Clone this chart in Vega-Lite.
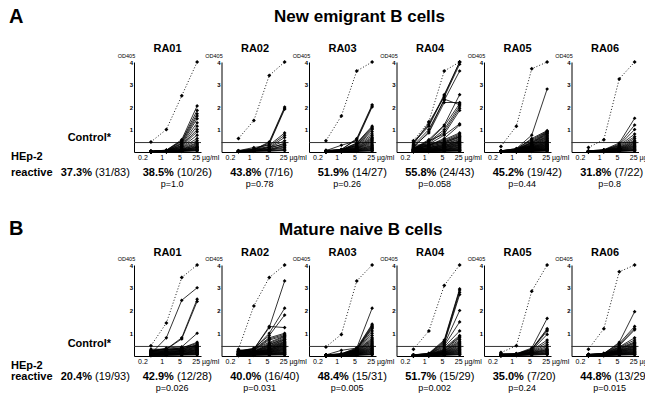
{
  "$schema": "https://vega.github.io/schema/vega-lite/v6.json",
  "padding": {"left": 8, "top": 7, "right": 0, "bottom": 0},
  "datasets": {
    "a": [
      {"r":"RA01","i":-1,"p":"38.5%","f":"(10/26)","q":"p=1.0","lp":"37.3%","lf":"(31/83)"},
      {"r":"RA02","i":-1,"p":"43.8%","f":"(7/16)","q":"p=0.78"},
      {"r":"RA03","i":-1,"p":"51.9%","f":"(14/27)","q":"p=0.26"},
      {"r":"RA04","i":-1,"p":"55.8%","f":"(24/43)","q":"p=0.058"},
      {"r":"RA05","i":-1,"p":"45.2%","f":"(19/42)","q":"p=0.44"},
      {"r":"RA06","i":-1,"p":"31.8%","f":"(7/22)","q":"p=0.8"},
      {"r":"RA01","i":0,"1":0.45,"2":1.0,"3":2.5,"4":4.0},
      {"r":"RA01","i":1,"1":0.03,"2":0.08,"3":0.55,"4":2.05},
      {"r":"RA01","i":2,"1":0.04,"2":0.08,"3":0.5,"4":1.85},
      {"r":"RA01","i":3,"1":0.03,"2":0.07,"3":0.48,"4":1.7},
      {"r":"RA01","i":4,"1":0.03,"2":0.06,"3":0.42,"4":1.6},
      {"r":"RA01","i":5,"1":0.02,"2":0.06,"3":0.38,"4":1.48},
      {"r":"RA01","i":6,"1":0.03,"2":0.06,"3":0.35,"4":1.3},
      {"r":"RA01","i":7,"1":0.02,"2":0.05,"3":0.3,"4":1.15},
      {"r":"RA01","i":8,"1":0.02,"2":0.05,"3":0.28,"4":1.0},
      {"r":"RA01","i":9,"1":0.03,"2":0.05,"3":0.25,"4":0.9},
      {"r":"RA01","i":10,"1":0.02,"2":0.04,"3":0.22,"4":0.75},
      {"r":"RA01","i":11,"1":0.02,"2":0.05,"3":0.2,"4":0.6},
      {"r":"RA01","i":12,"1":0.02,"2":0.04,"3":0.18,"4":0.5},
      {"r":"RA01","i":13,"1":0.01,"2":0.04,"3":0.15,"4":0.42},
      {"r":"RA01","i":14,"1":0.02,"2":0.03,"3":0.12,"4":0.38},
      {"r":"RA01","i":15,"1":0.02,"2":0.04,"3":0.1,"4":0.33},
      {"r":"RA01","i":16,"1":0.01,"2":0.03,"3":0.12,"4":0.28},
      {"r":"RA01","i":17,"1":0.02,"2":0.03,"3":0.08,"4":0.25},
      {"r":"RA01","i":18,"1":0.01,"2":0.03,"3":0.1,"4":0.2},
      {"r":"RA01","i":19,"1":0.01,"2":0.02,"3":0.06,"4":0.18},
      {"r":"RA01","i":20,"1":0.02,"2":0.03,"3":0.05,"4":0.15},
      {"r":"RA01","i":21,"1":0.01,"2":0.02,"3":0.08,"4":0.12},
      {"r":"RA01","i":22,"1":0.01,"2":0.02,"3":0.05,"4":0.1},
      {"r":"RA01","i":23,"1":0.01,"2":0.02,"3":0.04,"4":0.08},
      {"r":"RA01","i":24,"1":0.01,"2":0.02,"3":0.03,"4":0.06},
      {"r":"RA01","i":25,"1":0.01,"2":0.01,"3":0.03,"4":0.05},
      {"r":"RA01","i":26,"1":0.01,"2":0.02,"3":0.06,"4":0.22},
      {"r":"RA02","i":0,"1":0.6,"2":1.4,"3":3.4,"4":4.0},
      {"r":"RA02","i":1,"1":0.05,"2":0.1,"3":0.45,"4":2.0},
      {"r":"RA02","i":2,"1":0.05,"2":0.12,"3":0.4,"4":1.95},
      {"r":"RA02","i":3,"1":0.04,"2":0.1,"3":0.35,"4":1.9},
      {"r":"RA02","i":4,"1":0.06,"2":0.2,"3":0.3,"4":0.85},
      {"r":"RA02","i":5,"1":0.05,"2":0.1,"3":0.25,"4":0.75},
      {"r":"RA02","i":6,"1":0.04,"2":0.08,"3":0.2,"4":0.65},
      {"r":"RA02","i":7,"1":0.05,"2":0.15,"3":0.2,"4":0.5},
      {"r":"RA02","i":8,"1":0.04,"2":0.08,"3":0.15,"4":0.4},
      {"r":"RA02","i":9,"1":0.03,"2":0.06,"3":0.2,"4":0.35},
      {"r":"RA02","i":10,"1":0.04,"2":0.07,"3":0.12,"4":0.3},
      {"r":"RA02","i":11,"1":0.03,"2":0.06,"3":0.1,"4":0.28},
      {"r":"RA02","i":12,"1":0.03,"2":0.05,"3":0.1,"4":0.22},
      {"r":"RA02","i":13,"1":0.03,"2":0.05,"3":0.08,"4":0.18},
      {"r":"RA02","i":14,"1":0.02,"2":0.04,"3":0.06,"4":0.12},
      {"r":"RA02","i":15,"1":0.02,"2":0.04,"3":0.05,"4":0.08},
      {"r":"RA02","i":16,"1":0.02,"2":0.03,"3":0.04,"4":0.06},
      {"r":"RA03","i":0,"1":0.5,"2":1.6,"3":3.6,"4":4.0},
      {"r":"RA03","i":1,"1":0.08,"2":0.1,"3":0.6,"4":2.1},
      {"r":"RA03","i":2,"1":0.05,"2":0.12,"3":0.55,"4":2.05},
      {"r":"RA03","i":3,"1":0.06,"2":0.3,"3":0.5,"4":2.0},
      {"r":"RA03","i":4,"1":0.05,"2":0.1,"3":0.4,"4":1.15},
      {"r":"RA03","i":5,"1":0.04,"2":0.1,"3":0.38,"4":1.1},
      {"r":"RA03","i":6,"1":0.05,"2":0.08,"3":0.35,"4":1.05},
      {"r":"RA03","i":7,"1":0.04,"2":0.1,"3":0.3,"4":1.0},
      {"r":"RA03","i":8,"1":0.04,"2":0.08,"3":0.3,"4":0.9},
      {"r":"RA03","i":9,"1":0.03,"2":0.07,"3":0.28,"4":0.8},
      {"r":"RA03","i":10,"1":0.04,"2":0.07,"3":0.25,"4":0.72},
      {"r":"RA03","i":11,"1":0.03,"2":0.06,"3":0.22,"4":0.65},
      {"r":"RA03","i":12,"1":0.03,"2":0.06,"3":0.2,"4":0.6},
      {"r":"RA03","i":13,"1":0.04,"2":0.05,"3":0.18,"4":0.55},
      {"r":"RA03","i":14,"1":0.03,"2":0.05,"3":0.16,"4":0.5},
      {"r":"RA03","i":15,"1":0.02,"2":0.05,"3":0.15,"4":0.45},
      {"r":"RA03","i":16,"1":0.03,"2":0.04,"3":0.14,"4":0.4},
      {"r":"RA03","i":17,"1":0.02,"2":0.04,"3":0.12,"4":0.35},
      {"r":"RA03","i":18,"1":0.02,"2":0.04,"3":0.1,"4":0.3},
      {"r":"RA03","i":19,"1":0.02,"2":0.03,"3":0.1,"4":0.27},
      {"r":"RA03","i":20,"1":0.02,"2":0.03,"3":0.08,"4":0.23},
      {"r":"RA03","i":21,"1":0.02,"2":0.03,"3":0.08,"4":0.2},
      {"r":"RA03","i":22,"1":0.01,"2":0.03,"3":0.06,"4":0.17},
      {"r":"RA03","i":23,"1":0.01,"2":0.02,"3":0.05,"4":0.14},
      {"r":"RA03","i":24,"1":0.01,"2":0.02,"3":0.05,"4":0.11},
      {"r":"RA03","i":25,"1":0.01,"2":0.02,"3":0.04,"4":0.08},
      {"r":"RA03","i":26,"1":0.01,"2":0.02,"3":0.03,"4":0.06},
      {"r":"RA03","i":27,"1":0.01,"2":0.01,"3":0.03,"4":0.04},
      {"r":"RA04","i":0,"1":0.5,"2":1.35,"3":3.6,"4":4.0},
      {"r":"RA04","i":1,"1":0.45,"2":1.2,"3":2.55,"4":4.0},
      {"r":"RA04","i":2,"1":0.4,"2":1.15,"3":2.5,"4":4.0},
      {"r":"RA04","i":3,"1":0.35,"2":1.3,"3":2.45,"4":3.9},
      {"r":"RA04","i":4,"1":0.3,"2":1.0,"3":2.3,"4":3.6},
      {"r":"RA04","i":5,"1":0.2,"2":0.9,"3":2.35,"4":2.1},
      {"r":"RA04","i":6,"1":0.25,"2":0.85,"3":2.2,"4":2.2},
      {"r":"RA04","i":7,"1":0.15,"2":0.55,"3":1.2,"4":2.55},
      {"r":"RA04","i":8,"1":0.15,"2":0.5,"3":1.15,"4":2.15},
      {"r":"RA04","i":9,"1":0.1,"2":0.45,"3":1.0,"4":2.05},
      {"r":"RA04","i":10,"1":0.12,"2":0.4,"3":0.9,"4":1.95},
      {"r":"RA04","i":11,"1":0.1,"2":0.5,"3":0.8,"4":1.85},
      {"r":"RA04","i":12,"1":0.1,"2":0.35,"3":0.75,"4":1.25},
      {"r":"RA04","i":13,"1":0.08,"2":0.3,"3":0.6,"4":1.2},
      {"r":"RA04","i":14,"1":0.08,"2":0.3,"3":0.55,"4":0.85},
      {"r":"RA04","i":15,"1":0.3,"2":0.35,"3":0.5,"4":0.8},
      {"r":"RA04","i":16,"1":0.2,"2":0.3,"3":0.45,"4":0.75},
      {"r":"RA04","i":17,"1":0.25,"2":0.3,"3":0.45,"4":0.7},
      {"r":"RA04","i":18,"1":0.15,"2":0.25,"3":0.4,"4":0.68},
      {"r":"RA04","i":19,"1":0.2,"2":0.25,"3":0.4,"4":0.65},
      {"r":"RA04","i":20,"1":0.1,"2":0.2,"3":0.35,"4":0.6},
      {"r":"RA04","i":21,"1":0.15,"2":0.2,"3":0.35,"4":0.55},
      {"r":"RA04","i":22,"1":0.1,"2":0.2,"3":0.3,"4":0.5},
      {"r":"RA04","i":23,"1":0.12,"2":0.18,"3":0.3,"4":0.48},
      {"r":"RA04","i":24,"1":0.1,"2":0.15,"3":0.28,"4":0.45},
      {"r":"RA04","i":25,"1":0.08,"2":0.15,"3":0.25,"4":0.42},
      {"r":"RA04","i":26,"1":0.1,"2":0.15,"3":0.25,"4":0.4},
      {"r":"RA04","i":27,"1":0.08,"2":0.12,"3":0.22,"4":0.38},
      {"r":"RA04","i":28,"1":0.06,"2":0.12,"3":0.2,"4":0.35},
      {"r":"RA04","i":29,"1":0.08,"2":0.1,"3":0.2,"4":0.32},
      {"r":"RA04","i":30,"1":0.05,"2":0.1,"3":0.18,"4":0.3},
      {"r":"RA04","i":31,"1":0.06,"2":0.1,"3":0.15,"4":0.28},
      {"r":"RA04","i":32,"1":0.05,"2":0.08,"3":0.15,"4":0.25},
      {"r":"RA04","i":33,"1":0.04,"2":0.08,"3":0.12,"4":0.22},
      {"r":"RA04","i":34,"1":0.05,"2":0.07,"3":0.12,"4":0.2},
      {"r":"RA04","i":35,"1":0.04,"2":0.06,"3":0.1,"4":0.18},
      {"r":"RA04","i":36,"1":0.03,"2":0.06,"3":0.1,"4":0.15},
      {"r":"RA04","i":37,"1":0.04,"2":0.05,"3":0.08,"4":0.13},
      {"r":"RA04","i":38,"1":0.03,"2":0.05,"3":0.07,"4":0.11},
      {"r":"RA04","i":39,"1":0.03,"2":0.04,"3":0.06,"4":0.09},
      {"r":"RA04","i":40,"1":0.02,"2":0.04,"3":0.05,"4":0.08},
      {"r":"RA04","i":41,"1":0.02,"2":0.03,"3":0.05,"4":0.06},
      {"r":"RA04","i":42,"1":0.02,"2":0.03,"3":0.04,"4":0.05},
      {"r":"RA04","i":43,"1":0.02,"2":0.02,"3":0.03,"4":0.04},
      {"r":"RA05","i":0,"1":0.25,"2":1.15,"3":3.7,"4":4.0},
      {"r":"RA05","i":1,"1":0.05,"2":0.15,"3":0.75,"4":2.8},
      {"r":"RA05","i":2,"1":0.06,"2":0.12,"3":0.6,"4":0.95},
      {"r":"RA05","i":3,"1":0.05,"2":0.15,"3":0.55,"4":0.92},
      {"r":"RA05","i":4,"1":0.04,"2":0.12,"3":0.5,"4":0.9},
      {"r":"RA05","i":5,"1":0.05,"2":0.1,"3":0.45,"4":0.88},
      {"r":"RA05","i":6,"1":0.04,"2":0.1,"3":0.42,"4":0.85},
      {"r":"RA05","i":7,"1":0.05,"2":0.12,"3":0.4,"4":0.82},
      {"r":"RA05","i":8,"1":0.04,"2":0.1,"3":0.38,"4":0.8},
      {"r":"RA05","i":9,"1":0.04,"2":0.09,"3":0.35,"4":0.76},
      {"r":"RA05","i":10,"1":0.03,"2":0.1,"3":0.33,"4":0.72},
      {"r":"RA05","i":11,"1":0.04,"2":0.08,"3":0.3,"4":0.7},
      {"r":"RA05","i":12,"1":0.03,"2":0.09,"3":0.3,"4":0.66},
      {"r":"RA05","i":13,"1":0.04,"2":0.08,"3":0.28,"4":0.62},
      {"r":"RA05","i":14,"1":0.03,"2":0.08,"3":0.27,"4":0.6},
      {"r":"RA05","i":15,"1":0.03,"2":0.07,"3":0.25,"4":0.56},
      {"r":"RA05","i":16,"1":0.03,"2":0.07,"3":0.24,"4":0.52},
      {"r":"RA05","i":17,"1":0.03,"2":0.06,"3":0.22,"4":0.5},
      {"r":"RA05","i":18,"1":0.02,"2":0.06,"3":0.21,"4":0.47},
      {"r":"RA05","i":19,"1":0.03,"2":0.06,"3":0.2,"4":0.44},
      {"r":"RA05","i":20,"1":0.02,"2":0.05,"3":0.19,"4":0.42},
      {"r":"RA05","i":21,"1":0.02,"2":0.05,"3":0.18,"4":0.4},
      {"r":"RA05","i":22,"1":0.02,"2":0.05,"3":0.17,"4":0.37},
      {"r":"RA05","i":23,"1":0.02,"2":0.05,"3":0.16,"4":0.35},
      {"r":"RA05","i":24,"1":0.02,"2":0.04,"3":0.15,"4":0.33},
      {"r":"RA05","i":25,"1":0.02,"2":0.04,"3":0.14,"4":0.31},
      {"r":"RA05","i":26,"1":0.02,"2":0.04,"3":0.13,"4":0.29},
      {"r":"RA05","i":27,"1":0.02,"2":0.04,"3":0.12,"4":0.27},
      {"r":"RA05","i":28,"1":0.02,"2":0.04,"3":0.11,"4":0.25},
      {"r":"RA05","i":29,"1":0.01,"2":0.03,"3":0.1,"4":0.23},
      {"r":"RA05","i":30,"1":0.01,"2":0.03,"3":0.1,"4":0.21},
      {"r":"RA05","i":31,"1":0.01,"2":0.03,"3":0.09,"4":0.19},
      {"r":"RA05","i":32,"1":0.01,"2":0.03,"3":0.08,"4":0.17},
      {"r":"RA05","i":33,"1":0.01,"2":0.03,"3":0.08,"4":0.15},
      {"r":"RA05","i":34,"1":0.01,"2":0.03,"3":0.07,"4":0.14},
      {"r":"RA05","i":35,"1":0.01,"2":0.02,"3":0.06,"4":0.12},
      {"r":"RA05","i":36,"1":0.01,"2":0.02,"3":0.06,"4":0.11},
      {"r":"RA05","i":37,"1":0.01,"2":0.02,"3":0.05,"4":0.1},
      {"r":"RA05","i":38,"1":0.01,"2":0.02,"3":0.05,"4":0.08},
      {"r":"RA05","i":39,"1":0.01,"2":0.02,"3":0.04,"4":0.07},
      {"r":"RA05","i":40,"1":0.01,"2":0.02,"3":0.04,"4":0.06},
      {"r":"RA05","i":41,"1":0.01,"2":0.01,"3":0.03,"4":0.05},
      {"r":"RA05","i":42,"1":0.01,"2":0.01,"3":0.03,"4":0.04},
      {"r":"RA06","i":0,"1":0.2,"2":0.55,"3":3.25,"4":4.0},
      {"r":"RA06","i":1,"1":0.05,"2":0.1,"3":0.4,"4":1.5},
      {"r":"RA06","i":2,"1":0.04,"2":0.08,"3":0.35,"4":1.2},
      {"r":"RA06","i":3,"1":0.05,"2":0.1,"3":0.3,"4":1.0},
      {"r":"RA06","i":4,"1":0.04,"2":0.08,"3":0.28,"4":0.8},
      {"r":"RA06","i":5,"1":0.03,"2":0.08,"3":0.25,"4":0.68},
      {"r":"RA06","i":6,"1":0.04,"2":0.07,"3":0.22,"4":0.6},
      {"r":"RA06","i":7,"1":0.03,"2":0.07,"3":0.2,"4":0.52},
      {"r":"RA06","i":8,"1":0.03,"2":0.06,"3":0.18,"4":0.47},
      {"r":"RA06","i":9,"1":0.03,"2":0.06,"3":0.17,"4":0.42},
      {"r":"RA06","i":10,"1":0.03,"2":0.05,"3":0.15,"4":0.38},
      {"r":"RA06","i":11,"1":0.02,"2":0.05,"3":0.14,"4":0.34},
      {"r":"RA06","i":12,"1":0.02,"2":0.05,"3":0.13,"4":0.3},
      {"r":"RA06","i":13,"1":0.02,"2":0.04,"3":0.12,"4":0.27},
      {"r":"RA06","i":14,"1":0.02,"2":0.04,"3":0.1,"4":0.24},
      {"r":"RA06","i":15,"1":0.02,"2":0.04,"3":0.09,"4":0.21},
      {"r":"RA06","i":16,"1":0.02,"2":0.03,"3":0.08,"4":0.18},
      {"r":"RA06","i":17,"1":0.01,"2":0.03,"3":0.07,"4":0.15},
      {"r":"RA06","i":18,"1":0.01,"2":0.03,"3":0.06,"4":0.12},
      {"r":"RA06","i":19,"1":0.01,"2":0.02,"3":0.05,"4":0.1},
      {"r":"RA06","i":20,"1":0.01,"2":0.02,"3":0.04,"4":0.08},
      {"r":"RA06","i":21,"1":0.01,"2":0.02,"3":0.04,"4":0.06},
      {"r":"RA06","i":22,"1":0.01,"2":0.02,"3":0.03,"4":0.05}
    ],
    "b": [
      {"r":"RA01","i":-1,"p":"42.9%","f":"(12/28)","q":"p=0.026","lp":"20.4%","lf":"(19/93)"},
      {"r":"RA02","i":-1,"p":"40.0%","f":"(16/40)","q":"p=0.031"},
      {"r":"RA03","i":-1,"p":"48.4%","f":"(15/31)","q":"p=0.005"},
      {"r":"RA04","i":-1,"p":"51.7%","f":"(15/29)","q":"p=0.002"},
      {"r":"RA05","i":-1,"p":"35.0%","f":"(7/20)","q":"p=0.24"},
      {"r":"RA06","i":-1,"p":"44.8%","f":"(13/29)","q":"p=0.015"},
      {"r":"RA01","i":0,"1":0.45,"2":1.45,"3":3.45,"4":4.0},
      {"r":"RA01","i":1,"1":0.1,"2":0.8,"3":2.45,"4":3.0},
      {"r":"RA01","i":2,"1":0.2,"2":0.3,"3":0.8,"4":2.5},
      {"r":"RA01","i":3,"1":0.25,"2":0.3,"3":0.75,"4":2.4},
      {"r":"RA01","i":4,"1":0.2,"2":0.35,"3":0.4,"4":1.0},
      {"r":"RA01","i":5,"1":0.3,"2":0.3,"3":0.35,"4":0.6},
      {"r":"RA01","i":6,"1":0.25,"2":0.28,"3":0.35,"4":0.55},
      {"r":"RA01","i":7,"1":0.22,"2":0.3,"3":0.3,"4":0.5},
      {"r":"RA01","i":8,"1":0.2,"2":0.25,"3":0.32,"4":0.48},
      {"r":"RA01","i":9,"1":0.18,"2":0.25,"3":0.3,"4":0.45},
      {"r":"RA01","i":10,"1":0.15,"2":0.22,"3":0.28,"4":0.42},
      {"r":"RA01","i":11,"1":0.2,"2":0.2,"3":0.25,"4":0.4},
      {"r":"RA01","i":12,"1":0.15,"2":0.2,"3":0.25,"4":0.38},
      {"r":"RA01","i":13,"1":0.12,"2":0.18,"3":0.22,"4":0.35},
      {"r":"RA01","i":14,"1":0.14,"2":0.16,"3":0.22,"4":0.33},
      {"r":"RA01","i":15,"1":0.1,"2":0.15,"3":0.2,"4":0.3},
      {"r":"RA01","i":16,"1":0.12,"2":0.15,"3":0.18,"4":0.28},
      {"r":"RA01","i":17,"1":0.1,"2":0.12,"3":0.18,"4":0.26},
      {"r":"RA01","i":18,"1":0.08,"2":0.12,"3":0.15,"4":0.24},
      {"r":"RA01","i":19,"1":0.1,"2":0.1,"3":0.15,"4":0.22},
      {"r":"RA01","i":20,"1":0.06,"2":0.1,"3":0.12,"4":0.2},
      {"r":"RA01","i":21,"1":0.08,"2":0.08,"3":0.12,"4":0.18},
      {"r":"RA01","i":22,"1":0.05,"2":0.08,"3":0.1,"4":0.16},
      {"r":"RA01","i":23,"1":0.06,"2":0.06,"3":0.1,"4":0.14},
      {"r":"RA01","i":24,"1":0.04,"2":0.06,"3":0.08,"4":0.12},
      {"r":"RA01","i":25,"1":0.05,"2":0.05,"3":0.07,"4":0.1},
      {"r":"RA01","i":26,"1":0.03,"2":0.04,"3":0.06,"4":0.08},
      {"r":"RA01","i":27,"1":0.03,"2":0.04,"3":0.05,"4":0.06},
      {"r":"RA01","i":28,"1":0.02,"2":0.03,"3":0.04,"4":0.05},
      {"r":"RA02","i":0,"1":0.3,"2":2.2,"3":3.45,"4":4.0},
      {"r":"RA02","i":1,"1":0.2,"2":0.3,"3":1.25,"4":3.3},
      {"r":"RA02","i":2,"1":0.25,"2":0.3,"3":1.0,"4":2.1},
      {"r":"RA02","i":3,"1":0.2,"2":0.35,"3":0.9,"4":1.8},
      {"r":"RA02","i":4,"1":0.2,"2":0.3,"3":1.3,"4":1.25},
      {"r":"RA02","i":5,"1":0.15,"2":0.3,"3":0.8,"4":1.0},
      {"r":"RA02","i":6,"1":0.22,"2":0.28,"3":0.75,"4":0.95},
      {"r":"RA02","i":7,"1":0.2,"2":0.25,"3":0.7,"4":0.9},
      {"r":"RA02","i":8,"1":0.18,"2":0.3,"3":0.6,"4":0.88},
      {"r":"RA02","i":9,"1":0.25,"2":0.25,"3":0.55,"4":0.85},
      {"r":"RA02","i":10,"1":0.15,"2":0.22,"3":0.5,"4":0.8},
      {"r":"RA02","i":11,"1":0.2,"2":0.2,"3":0.5,"4":0.75},
      {"r":"RA02","i":12,"1":0.18,"2":0.2,"3":0.45,"4":0.72},
      {"r":"RA02","i":13,"1":0.15,"2":0.2,"3":0.42,"4":0.7},
      {"r":"RA02","i":14,"1":0.12,"2":0.18,"3":0.4,"4":0.65},
      {"r":"RA02","i":15,"1":0.15,"2":0.18,"3":0.38,"4":0.62},
      {"r":"RA02","i":16,"1":0.12,"2":0.16,"3":0.35,"4":0.6},
      {"r":"RA02","i":17,"1":0.1,"2":0.16,"3":0.33,"4":0.57},
      {"r":"RA02","i":18,"1":0.12,"2":0.15,"3":0.3,"4":0.55},
      {"r":"RA02","i":19,"1":0.1,"2":0.15,"3":0.3,"4":0.52},
      {"r":"RA02","i":20,"1":0.1,"2":0.14,"3":0.28,"4":0.5},
      {"r":"RA02","i":21,"1":0.08,"2":0.14,"3":0.26,"4":0.47},
      {"r":"RA02","i":22,"1":0.1,"2":0.13,"3":0.25,"4":0.45},
      {"r":"RA02","i":23,"1":0.08,"2":0.12,"3":0.24,"4":0.42},
      {"r":"RA02","i":24,"1":0.08,"2":0.12,"3":0.22,"4":0.4},
      {"r":"RA02","i":25,"1":0.07,"2":0.11,"3":0.2,"4":0.37},
      {"r":"RA02","i":26,"1":0.08,"2":0.1,"3":0.2,"4":0.35},
      {"r":"RA02","i":27,"1":0.06,"2":0.1,"3":0.18,"4":0.32},
      {"r":"RA02","i":28,"1":0.07,"2":0.09,"3":0.17,"4":0.3},
      {"r":"RA02","i":29,"1":0.06,"2":0.09,"3":0.16,"4":0.28},
      {"r":"RA02","i":30,"1":0.05,"2":0.08,"3":0.15,"4":0.25},
      {"r":"RA02","i":31,"1":0.06,"2":0.08,"3":0.14,"4":0.23},
      {"r":"RA02","i":32,"1":0.05,"2":0.07,"3":0.12,"4":0.2},
      {"r":"RA02","i":33,"1":0.04,"2":0.07,"3":0.11,"4":0.18},
      {"r":"RA02","i":34,"1":0.05,"2":0.06,"3":0.1,"4":0.16},
      {"r":"RA02","i":35,"1":0.04,"2":0.06,"3":0.09,"4":0.14},
      {"r":"RA02","i":36,"1":0.04,"2":0.05,"3":0.08,"4":0.12},
      {"r":"RA02","i":37,"1":0.03,"2":0.05,"3":0.07,"4":0.1},
      {"r":"RA02","i":38,"1":0.03,"2":0.04,"3":0.06,"4":0.08},
      {"r":"RA02","i":39,"1":0.03,"2":0.04,"3":0.05,"4":0.06},
      {"r":"RA02","i":40,"1":0.02,"2":0.03,"3":0.04,"4":0.05},
      {"r":"RA03","i":0,"1":0.4,"2":0.95,"3":3.3,"4":4.0},
      {"r":"RA03","i":1,"1":0.05,"2":0.25,"3":0.35,"4":2.1},
      {"r":"RA03","i":2,"1":0.05,"2":0.1,"3":0.35,"4":1.4},
      {"r":"RA03","i":3,"1":0.04,"2":0.1,"3":0.33,"4":1.35},
      {"r":"RA03","i":4,"1":0.05,"2":0.08,"3":0.3,"4":1.3},
      {"r":"RA03","i":5,"1":0.04,"2":0.08,"3":0.3,"4":1.25},
      {"r":"RA03","i":6,"1":0.04,"2":0.08,"3":0.28,"4":1.2},
      {"r":"RA03","i":7,"1":0.03,"2":0.07,"3":0.27,"4":1.1},
      {"r":"RA03","i":8,"1":0.04,"2":0.07,"3":0.25,"4":1.0},
      {"r":"RA03","i":9,"1":0.03,"2":0.07,"3":0.24,"4":0.9},
      {"r":"RA03","i":10,"1":0.03,"2":0.06,"3":0.23,"4":0.8},
      {"r":"RA03","i":11,"1":0.03,"2":0.06,"3":0.22,"4":0.75},
      {"r":"RA03","i":12,"1":0.03,"2":0.06,"3":0.2,"4":0.7},
      {"r":"RA03","i":13,"1":0.03,"2":0.05,"3":0.2,"4":0.65},
      {"r":"RA03","i":14,"1":0.02,"2":0.05,"3":0.18,"4":0.6},
      {"r":"RA03","i":15,"1":0.03,"2":0.05,"3":0.17,"4":0.55},
      {"r":"RA03","i":16,"1":0.02,"2":0.05,"3":0.16,"4":0.5},
      {"r":"RA03","i":17,"1":0.02,"2":0.04,"3":0.15,"4":0.46},
      {"r":"RA03","i":18,"1":0.02,"2":0.04,"3":0.14,"4":0.42},
      {"r":"RA03","i":19,"1":0.02,"2":0.04,"3":0.13,"4":0.38},
      {"r":"RA03","i":20,"1":0.02,"2":0.04,"3":0.12,"4":0.35},
      {"r":"RA03","i":21,"1":0.02,"2":0.03,"3":0.11,"4":0.32},
      {"r":"RA03","i":22,"1":0.02,"2":0.03,"3":0.1,"4":0.29},
      {"r":"RA03","i":23,"1":0.01,"2":0.03,"3":0.09,"4":0.26},
      {"r":"RA03","i":24,"1":0.01,"2":0.03,"3":0.08,"4":0.23},
      {"r":"RA03","i":25,"1":0.01,"2":0.03,"3":0.08,"4":0.2},
      {"r":"RA03","i":26,"1":0.01,"2":0.02,"3":0.07,"4":0.17},
      {"r":"RA03","i":27,"1":0.01,"2":0.02,"3":0.06,"4":0.14},
      {"r":"RA03","i":28,"1":0.01,"2":0.02,"3":0.05,"4":0.11},
      {"r":"RA03","i":29,"1":0.01,"2":0.02,"3":0.04,"4":0.09},
      {"r":"RA03","i":30,"1":0.01,"2":0.02,"3":0.04,"4":0.07},
      {"r":"RA03","i":31,"1":0.01,"2":0.01,"3":0.03,"4":0.05},
      {"r":"RA04","i":0,"1":0.3,"2":1.1,"3":3.1,"4":4.0},
      {"r":"RA04","i":1,"1":0.05,"2":0.12,"3":0.7,"4":2.95},
      {"r":"RA04","i":2,"1":0.05,"2":0.1,"3":0.65,"4":2.9},
      {"r":"RA04","i":3,"1":0.04,"2":0.1,"3":0.6,"4":2.8},
      {"r":"RA04","i":4,"1":0.05,"2":0.1,"3":0.55,"4":2.7},
      {"r":"RA04","i":5,"1":0.04,"2":0.08,"3":0.5,"4":2.0},
      {"r":"RA04","i":6,"1":0.04,"2":0.08,"3":0.45,"4":1.5},
      {"r":"RA04","i":7,"1":0.03,"2":0.08,"3":0.4,"4":1.1},
      {"r":"RA04","i":8,"1":0.04,"2":0.07,"3":0.35,"4":0.9},
      {"r":"RA04","i":9,"1":0.03,"2":0.07,"3":0.3,"4":0.85},
      {"r":"RA04","i":10,"1":0.03,"2":0.06,"3":0.28,"4":0.8},
      {"r":"RA04","i":11,"1":0.03,"2":0.06,"3":0.25,"4":0.72},
      {"r":"RA04","i":12,"1":0.03,"2":0.06,"3":0.23,"4":0.65},
      {"r":"RA04","i":13,"1":0.02,"2":0.05,"3":0.22,"4":0.6},
      {"r":"RA04","i":14,"1":0.02,"2":0.05,"3":0.2,"4":0.55},
      {"r":"RA04","i":15,"1":0.02,"2":0.05,"3":0.18,"4":0.5},
      {"r":"RA04","i":16,"1":0.02,"2":0.04,"3":0.17,"4":0.45},
      {"r":"RA04","i":17,"1":0.02,"2":0.04,"3":0.16,"4":0.4},
      {"r":"RA04","i":18,"1":0.02,"2":0.04,"3":0.15,"4":0.36},
      {"r":"RA04","i":19,"1":0.02,"2":0.04,"3":0.14,"4":0.32},
      {"r":"RA04","i":20,"1":0.02,"2":0.03,"3":0.12,"4":0.29},
      {"r":"RA04","i":21,"1":0.01,"2":0.03,"3":0.11,"4":0.26},
      {"r":"RA04","i":22,"1":0.01,"2":0.03,"3":0.1,"4":0.23},
      {"r":"RA04","i":23,"1":0.01,"2":0.03,"3":0.09,"4":0.2},
      {"r":"RA04","i":24,"1":0.01,"2":0.02,"3":0.08,"4":0.17},
      {"r":"RA04","i":25,"1":0.01,"2":0.02,"3":0.07,"4":0.14},
      {"r":"RA04","i":26,"1":0.01,"2":0.02,"3":0.06,"4":0.11},
      {"r":"RA04","i":27,"1":0.01,"2":0.02,"3":0.05,"4":0.09},
      {"r":"RA04","i":28,"1":0.01,"2":0.02,"3":0.04,"4":0.07},
      {"r":"RA04","i":29,"1":0.01,"2":0.01,"3":0.03,"4":0.05},
      {"r":"RA05","i":0,"1":0.15,"2":0.45,"3":2.85,"4":4.0},
      {"r":"RA05","i":1,"1":0.1,"2":0.1,"3":0.35,"4":1.65},
      {"r":"RA05","i":2,"1":0.08,"2":0.1,"3":0.3,"4":1.2},
      {"r":"RA05","i":3,"1":0.06,"2":0.08,"3":0.3,"4":1.15},
      {"r":"RA05","i":4,"1":0.08,"2":0.1,"3":0.28,"4":1.1},
      {"r":"RA05","i":5,"1":0.05,"2":0.08,"3":0.25,"4":0.95},
      {"r":"RA05","i":6,"1":0.06,"2":0.08,"3":0.25,"4":0.7},
      {"r":"RA05","i":7,"1":0.05,"2":0.07,"3":0.22,"4":0.6},
      {"r":"RA05","i":8,"1":0.05,"2":0.07,"3":0.2,"4":0.5},
      {"r":"RA05","i":9,"1":0.04,"2":0.06,"3":0.18,"4":0.42},
      {"r":"RA05","i":10,"1":0.05,"2":0.06,"3":0.17,"4":0.35},
      {"r":"RA05","i":11,"1":0.04,"2":0.06,"3":0.15,"4":0.3},
      {"r":"RA05","i":12,"1":0.04,"2":0.05,"3":0.14,"4":0.27},
      {"r":"RA05","i":13,"1":0.03,"2":0.05,"3":0.13,"4":0.24},
      {"r":"RA05","i":14,"1":0.03,"2":0.05,"3":0.12,"4":0.21},
      {"r":"RA05","i":15,"1":0.03,"2":0.04,"3":0.1,"4":0.18},
      {"r":"RA05","i":16,"1":0.02,"2":0.04,"3":0.09,"4":0.15},
      {"r":"RA05","i":17,"1":0.02,"2":0.04,"3":0.08,"4":0.12},
      {"r":"RA05","i":18,"1":0.02,"2":0.03,"3":0.07,"4":0.1},
      {"r":"RA05","i":19,"1":0.02,"2":0.03,"3":0.05,"4":0.08},
      {"r":"RA05","i":20,"1":0.01,"2":0.02,"3":0.04,"4":0.06},
      {"r":"RA06","i":0,"1":0.3,"2":1.2,"3":3.7,"4":4.0},
      {"r":"RA06","i":1,"1":0.08,"2":0.1,"3":0.6,"4":1.95},
      {"r":"RA06","i":2,"1":0.06,"2":0.12,"3":0.55,"4":1.3},
      {"r":"RA06","i":3,"1":0.07,"2":0.1,"3":0.5,"4":1.2},
      {"r":"RA06","i":4,"1":0.06,"2":0.1,"3":0.45,"4":1.15},
      {"r":"RA06","i":5,"1":0.05,"2":0.1,"3":0.4,"4":0.8},
      {"r":"RA06","i":6,"1":0.06,"2":0.09,"3":0.38,"4":0.7},
      {"r":"RA06","i":7,"1":0.05,"2":0.09,"3":0.35,"4":0.62},
      {"r":"RA06","i":8,"1":0.05,"2":0.08,"3":0.32,"4":0.58},
      {"r":"RA06","i":9,"1":0.05,"2":0.08,"3":0.3,"4":0.55},
      {"r":"RA06","i":10,"1":0.04,"2":0.08,"3":0.28,"4":0.5},
      {"r":"RA06","i":11,"1":0.05,"2":0.07,"3":0.26,"4":0.45},
      {"r":"RA06","i":12,"1":0.04,"2":0.07,"3":0.25,"4":0.42},
      {"r":"RA06","i":13,"1":0.04,"2":0.07,"3":0.23,"4":0.4},
      {"r":"RA06","i":14,"1":0.04,"2":0.06,"3":0.22,"4":0.37},
      {"r":"RA06","i":15,"1":0.03,"2":0.06,"3":0.2,"4":0.34},
      {"r":"RA06","i":16,"1":0.04,"2":0.06,"3":0.19,"4":0.32},
      {"r":"RA06","i":17,"1":0.03,"2":0.05,"3":0.18,"4":0.3},
      {"r":"RA06","i":18,"1":0.03,"2":0.05,"3":0.16,"4":0.27},
      {"r":"RA06","i":19,"1":0.03,"2":0.05,"3":0.15,"4":0.25},
      {"r":"RA06","i":20,"1":0.03,"2":0.05,"3":0.14,"4":0.22},
      {"r":"RA06","i":21,"1":0.02,"2":0.04,"3":0.12,"4":0.2},
      {"r":"RA06","i":22,"1":0.02,"2":0.04,"3":0.11,"4":0.18},
      {"r":"RA06","i":23,"1":0.02,"2":0.04,"3":0.1,"4":0.16},
      {"r":"RA06","i":24,"1":0.02,"2":0.04,"3":0.09,"4":0.14},
      {"r":"RA06","i":25,"1":0.02,"2":0.03,"3":0.08,"4":0.12},
      {"r":"RA06","i":26,"1":0.02,"2":0.03,"3":0.07,"4":0.1},
      {"r":"RA06","i":27,"1":0.01,"2":0.03,"3":0.06,"4":0.08},
      {"r":"RA06","i":28,"1":0.01,"2":0.02,"3":0.05,"4":0.07},
      {"r":"RA06","i":29,"1":0.01,"2":0.02,"3":0.04,"4":0.05}
    ]
  },
  "vconcat": [
    {
      "data": {"name": "a"},
      "title": {"text": "New emigrant B cells", "fontSize": 17, "fontWeight": "bold", "anchor": "start", "dx": 140, "dy": 23, "frame": "group"},
      "facet": {"column": {"field": "r", "type": "nominal", "header": {"title": null, "labelFontSize": 11, "labelFontWeight": "bold", "labelPadding": 8}}},
      "spacing": {"column": 20.5},
      "bounds": "flush",
      "resolve": {"axis": {"x": "independent", "y": "independent"}},
      "spec": {
        "width": 67,
        "height": 90,
        "layer": [
          {"transform": [{"filter": "datum.i == -1"}], "mark": {"type": "rule", "color": "#333", "strokeWidth": 1}, "encoding": {"y": {"datum": 0.42, "type": "quantitative"}}},
          {"transform": [{"filter": "datum.i > 0"}, {"fold": ["1", "2", "3", "4"], "as": ["k", "v"]}],
           "mark": {"type": "line", "color": "black", "strokeWidth": 0.8},
           "encoding": {
             "x": {"field": "k", "type": "quantitative", "scale": {"domain": [-0.1, 4.25], "nice": false, "zero": false},
                   "axis": {"values": [0.45, 1.7, 2.85, 3.65], "tickCount": 10, "labelExpr": "datum.value < 1 ? '0.2' : datum.value < 2 ? '1' : datum.value < 3.2 ? '5' : '25 µg/ml'", "labelAlign": {"condition": {"test": "datum.value > 3.2", "value": "left"}, "value": "center"}, "labelFontSize": 7, "labelPadding": 1, "ticks": false, "title": null, "domainColor": "black", "grid": false, "labelBound": false, "labelFlush": false, "labelOverlap": false, "labelSeparation": 0}},
             "y": {"field": "v", "type": "quantitative", "scale": {"domain": [0, 4], "nice": false},
                   "axis": {"values": [1, 2, 3, 4], "tickCount": 10, "format": "d", "title": "OD405", "titleAngle": 0, "titleX": -8, "titleY": -7, "titleAlign": "center", "titleBaseline": "middle", "titleFontSize": 5.5, "titleFontWeight": "normal", "labelFontSize": 6, "labelFontWeight": "bold", "labelPadding": 1.5, "ticks": false, "domainColor": "black", "grid": false, "labelOverlap": false, "labelBound": false, "labelFlush": false, "labelSeparation": 0}},
             "detail": {"field": "i"}}},
          {"transform": [{"filter": "datum.i > 0"}, {"fold": ["1", "2", "3", "4"], "as": ["k", "v"]}],
           "mark": {"type": "point", "shape": "diamond", "filled": true, "color": "black", "size": 14, "opacity": 1},
           "encoding": {"x": {"field": "k", "type": "quantitative"}, "y": {"field": "v", "type": "quantitative"}}},
          {"transform": [{"filter": "datum.i == 0"}, {"fold": ["1", "2", "3", "4"], "as": ["k", "v"]}],
           "mark": {"type": "line", "color": "black", "strokeWidth": 0.9, "strokeDash": [1, 2]},
           "encoding": {"x": {"field": "k", "type": "quantitative"}, "y": {"field": "v", "type": "quantitative"}}},
          {"transform": [{"filter": "datum.i == 0"}, {"fold": ["1", "2", "3", "4"], "as": ["k", "v"]}],
           "mark": {"type": "point", "shape": "diamond", "filled": true, "color": "black", "size": 16, "opacity": 1},
           "encoding": {"x": {"field": "k", "type": "quantitative"}, "y": {"field": "v", "type": "quantitative"}}},
          {"transform": [{"filter": "datum.i == -1"}], "mark": {"type": "text", "align": "right", "baseline": "middle", "fontSize": 11, "fontWeight": "bold"},
           "encoding": {"x": {"datum": 2.49}, "y": {"datum": -0.93}, "text": {"field": "p"}}},
          {"transform": [{"filter": "datum.i == -1"}], "mark": {"type": "text", "align": "left", "baseline": "middle", "fontSize": 11},
           "encoding": {"x": {"datum": 2.69}, "y": {"datum": -0.93}, "text": {"field": "f"}}},
          {"transform": [{"filter": "datum.i == -1"}], "mark": {"type": "text", "align": "center", "baseline": "middle", "fontSize": 9},
           "encoding": {"x": {"datum": 2.37}, "y": {"datum": -1.42}, "text": {"field": "q"}}},
          {"transform": [{"filter": "datum.i == -1 && datum.r == 'RA01'"}], "mark": {"type": "text", "align": "left", "baseline": "middle", "fontSize": 20, "fontWeight": "bold", "text": "A"},
           "encoding": {"x": {"datum": -8.22}, "y": {"datum": 6.0}}},
          {"transform": [{"filter": "datum.i == -1 && datum.r == 'RA01'"}], "mark": {"type": "text", "align": "right", "baseline": "middle", "fontSize": 11, "fontWeight": "bold", "text": "Control*"},
           "encoding": {"x": {"datum": -1.59}, "y": {"datum": 0.62}}},
          {"transform": [{"filter": "datum.i == -1 && datum.r == 'RA01'"}], "mark": {"type": "text", "align": "left", "baseline": "middle", "fontSize": 11, "fontWeight": "bold", "text": "HEp-2"},
           "encoding": {"x": {"datum": -8.09}, "y": {"datum": -0.22}}},
          {"transform": [{"filter": "datum.i == -1 && datum.r == 'RA01'"}], "mark": {"type": "text", "align": "left", "baseline": "middle", "fontSize": 11, "fontWeight": "bold", "text": "reactive"},
           "encoding": {"x": {"datum": -8.09}, "y": {"datum": -0.93}}},
          {"transform": [{"filter": "datum.i == -1 && datum.r == 'RA01'"}], "mark": {"type": "text", "align": "right", "baseline": "middle", "fontSize": 11, "fontWeight": "bold"},
           "encoding": {"x": {"datum": -2.83}, "y": {"datum": -0.93}, "text": {"field": "lp"}}},
          {"transform": [{"filter": "datum.i == -1 && datum.r == 'RA01'"}], "mark": {"type": "text", "align": "left", "baseline": "middle", "fontSize": 11},
           "encoding": {"x": {"datum": -2.63}, "y": {"datum": -0.93}, "text": {"field": "lf"}}}
        ]
      }
    },
    {
      "data": {"name": "b"},
      "title": {"text": "Mature naive B cells", "fontSize": 17, "fontWeight": "bold", "anchor": "start", "dx": 145, "dy": 24, "frame": "group"},
      "facet": {"column": {"field": "r", "type": "nominal", "header": {"title": null, "labelFontSize": 11, "labelFontWeight": "bold", "labelPadding": 7}}},
      "spacing": {"column": 20.5},
      "bounds": "flush",
      "resolve": {"axis": {"x": "independent", "y": "independent"}},
      "spec": {
        "width": 67,
        "height": 91,
        "layer": [
          {"transform": [{"filter": "datum.i == -1"}], "mark": {"type": "rule", "color": "#333", "strokeWidth": 1}, "encoding": {"y": {"datum": 0.42, "type": "quantitative"}}},
          {"transform": [{"filter": "datum.i > 0"}, {"fold": ["1", "2", "3", "4"], "as": ["k", "v"]}],
           "mark": {"type": "line", "color": "black", "strokeWidth": 0.8},
           "encoding": {
             "x": {"field": "k", "type": "quantitative", "scale": {"domain": [-0.1, 4.25], "nice": false, "zero": false},
                   "axis": {"values": [0.45, 1.7, 2.85, 3.65], "tickCount": 10, "labelExpr": "datum.value < 1 ? '0.2' : datum.value < 2 ? '1' : datum.value < 3.2 ? '5' : '25 µg/ml'", "labelAlign": {"condition": {"test": "datum.value > 3.2", "value": "left"}, "value": "center"}, "labelFontSize": 7, "labelPadding": 1, "ticks": false, "title": null, "domainColor": "black", "grid": false, "labelBound": false, "labelFlush": false, "labelOverlap": false, "labelSeparation": 0}},
             "y": {"field": "v", "type": "quantitative", "scale": {"domain": [0, 4], "nice": false},
                   "axis": {"values": [1, 2, 3, 4], "tickCount": 10, "format": "d", "title": "OD405", "titleAngle": 0, "titleX": -8, "titleY": -7, "titleAlign": "center", "titleBaseline": "middle", "titleFontSize": 5.5, "titleFontWeight": "normal", "labelFontSize": 6, "labelFontWeight": "bold", "labelPadding": 1.5, "ticks": false, "domainColor": "black", "grid": false, "labelOverlap": false, "labelBound": false, "labelFlush": false, "labelSeparation": 0}},
             "detail": {"field": "i"}}},
          {"transform": [{"filter": "datum.i > 0"}, {"fold": ["1", "2", "3", "4"], "as": ["k", "v"]}],
           "mark": {"type": "point", "shape": "diamond", "filled": true, "color": "black", "size": 14, "opacity": 1},
           "encoding": {"x": {"field": "k", "type": "quantitative"}, "y": {"field": "v", "type": "quantitative"}}},
          {"transform": [{"filter": "datum.i == 0"}, {"fold": ["1", "2", "3", "4"], "as": ["k", "v"]}],
           "mark": {"type": "line", "color": "black", "strokeWidth": 0.9, "strokeDash": [1, 2]},
           "encoding": {"x": {"field": "k", "type": "quantitative"}, "y": {"field": "v", "type": "quantitative"}}},
          {"transform": [{"filter": "datum.i == 0"}, {"fold": ["1", "2", "3", "4"], "as": ["k", "v"]}],
           "mark": {"type": "point", "shape": "diamond", "filled": true, "color": "black", "size": 16, "opacity": 1},
           "encoding": {"x": {"field": "k", "type": "quantitative"}, "y": {"field": "v", "type": "quantitative"}}},
          {"transform": [{"filter": "datum.i == -1"}], "mark": {"type": "text", "align": "right", "baseline": "middle", "fontSize": 11, "fontWeight": "bold"},
           "encoding": {"x": {"datum": 2.49}, "y": {"datum": -0.93}, "text": {"field": "p"}}},
          {"transform": [{"filter": "datum.i == -1"}], "mark": {"type": "text", "align": "left", "baseline": "middle", "fontSize": 11},
           "encoding": {"x": {"datum": 2.69}, "y": {"datum": -0.93}, "text": {"field": "f"}}},
          {"transform": [{"filter": "datum.i == -1"}], "mark": {"type": "text", "align": "center", "baseline": "middle", "fontSize": 9},
           "encoding": {"x": {"datum": 2.37}, "y": {"datum": -1.42}, "text": {"field": "q"}}},
          {"transform": [{"filter": "datum.i == -1 && datum.r == 'RA01'"}], "mark": {"type": "text", "align": "left", "baseline": "middle", "fontSize": 20, "fontWeight": "bold", "text": "B"},
           "encoding": {"x": {"datum": -8.22}, "y": {"datum": 5.6}}},
          {"transform": [{"filter": "datum.i == -1 && datum.r == 'RA01'"}], "mark": {"type": "text", "align": "right", "baseline": "middle", "fontSize": 11, "fontWeight": "bold", "text": "Control*"},
           "encoding": {"x": {"datum": -1.59}, "y": {"datum": 0.53}}},
          {"transform": [{"filter": "datum.i == -1 && datum.r == 'RA01'"}], "mark": {"type": "text", "align": "left", "baseline": "middle", "fontSize": 11, "fontWeight": "bold", "text": "HEp-2"},
           "encoding": {"x": {"datum": -8.09}, "y": {"datum": -0.44}}},
          {"transform": [{"filter": "datum.i == -1 && datum.r == 'RA01'"}], "mark": {"type": "text", "align": "left", "baseline": "middle", "fontSize": 11, "fontWeight": "bold", "text": "reactive"},
           "encoding": {"x": {"datum": -8.09}, "y": {"datum": -0.93}}},
          {"transform": [{"filter": "datum.i == -1 && datum.r == 'RA01'"}], "mark": {"type": "text", "align": "right", "baseline": "middle", "fontSize": 11, "fontWeight": "bold"},
           "encoding": {"x": {"datum": -2.83}, "y": {"datum": -0.93}, "text": {"field": "lp"}}},
          {"transform": [{"filter": "datum.i == -1 && datum.r == 'RA01'"}], "mark": {"type": "text", "align": "left", "baseline": "middle", "fontSize": 11},
           "encoding": {"x": {"datum": -2.63}, "y": {"datum": -0.93}, "text": {"field": "lf"}}}
        ]
      }
    }
  ],
  "spacing": 29,
  "config": {
    "font": "Liberation Sans",
    "view": {"stroke": null},
    "axis": {"labelFont": "Liberation Sans", "titleFont": "Liberation Sans", "labelColor": "black", "titleColor": "black", "labelOverlap": false},
    "header": {"labelFont": "Liberation Sans", "labelColor": "black"},
    "title": {"font": "Liberation Sans", "color": "black"},
    "text": {"font": "Liberation Sans", "color": "black"}
  }
}
